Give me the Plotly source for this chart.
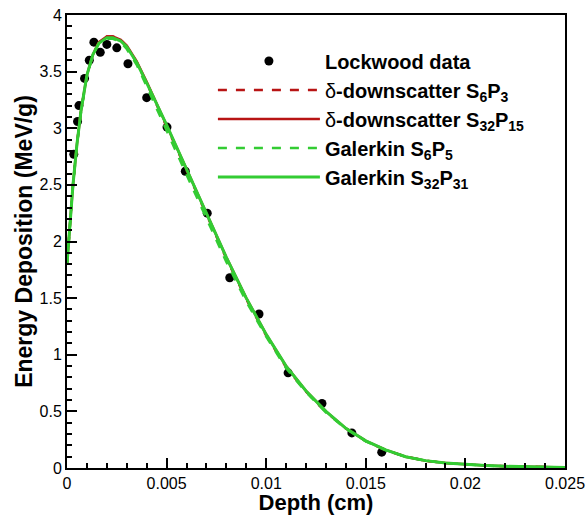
import plotly.graph_objects as go

# Lockwood experimental data
lock_x = [0.00034, 0.00053, 0.00060, 0.00088, 0.00112, 0.00135, 0.00167, 0.00200,
          0.00250, 0.00306, 0.00400, 0.00502, 0.00594, 0.00704, 0.00817, 0.00964,
          0.01110, 0.01280, 0.01430, 0.01580]
lock_y = [2.77, 3.06, 3.20, 3.44, 3.60, 3.76, 3.67, 3.74,
          3.71, 3.57, 3.27, 3.01, 2.62, 2.25, 1.68, 1.36,
          0.84, 0.57, 0.31, 0.14]

# computed curves (shared depth grid)
depth = [0.0, 0.0001, 0.0002, 0.0003, 0.0005, 0.0007, 0.001, 0.0013, 0.0016, 0.002,
         0.0023, 0.0027, 0.003, 0.0035, 0.004, 0.0045, 0.005, 0.006, 0.007, 0.008,
         0.009, 0.010, 0.011, 0.012, 0.013, 0.014, 0.015, 0.016, 0.017, 0.018,
         0.019, 0.020, 0.021, 0.022, 0.023, 0.024, 0.025]
delta_s6p3 = [1.80, 2.05, 2.27, 2.50, 2.86, 3.15, 3.47, 3.65, 3.76, 3.81,
              3.81, 3.78, 3.72, 3.58, 3.40, 3.21, 3.02, 2.63, 2.24, 1.85,
              1.49, 1.17, 0.89, 0.675, 0.495, 0.348, 0.238, 0.158, 0.10, 0.065,
              0.045, 0.032, 0.022, 0.015, 0.010, 0.007, 0.005]
delta_s32p15 = [1.80, 2.05, 2.27, 2.50, 2.86, 3.15, 3.47, 3.65, 3.76, 3.81,
                3.81, 3.78, 3.73, 3.59, 3.41, 3.22, 3.03, 2.64, 2.25, 1.86,
                1.50, 1.18, 0.90, 0.68, 0.50, 0.35, 0.24, 0.16, 0.10, 0.065,
                0.045, 0.032, 0.022, 0.015, 0.010, 0.007, 0.005]
galerkin_s6p5 = [1.80, 2.05, 2.27, 2.49, 2.85, 3.14, 3.46, 3.65, 3.75, 3.79,
                 3.79, 3.76, 3.70, 3.56, 3.37, 3.18, 2.98, 2.59, 2.20, 1.82,
                 1.47, 1.16, 0.88, 0.67, 0.49, 0.345, 0.235, 0.155, 0.10, 0.065,
                 0.044, 0.031, 0.021, 0.014, 0.010, 0.007, 0.005]
galerkin_s32p31 = [1.80, 2.05, 2.27, 2.50, 2.86, 3.15, 3.47, 3.65, 3.75, 3.80,
                   3.80, 3.77, 3.72, 3.58, 3.40, 3.22, 3.03, 2.64, 2.25, 1.86,
                   1.50, 1.18, 0.90, 0.68, 0.50, 0.35, 0.24, 0.16, 0.10, 0.065,
                   0.045, 0.032, 0.022, 0.015, 0.010, 0.007, 0.005]

x_ticks = [0, 0.005, 0.01, 0.015, 0.02, 0.025]
x_ticklabels = ["0", "0.005", "0.01", "0.015", "0.02", "0.025"]
y_ticks = [0, 0.5, 1, 1.5, 2, 2.5, 3, 3.5, 4]
y_ticklabels = ["0", "0.5", "1", "1.5", "2", "2.5", "3", "3.5", "4"]

RED = "#b81414"
GREEN = "#33cc33"
FONT = "Liberation Sans, Arial, sans-serif"

fig = go.Figure()
fig.add_trace(go.Scatter(x=lock_x, y=lock_y, mode="markers",
                         marker=dict(color="black", size=9),
                         name="<b>Lockwood data</b>"))
fig.add_trace(go.Scatter(x=depth, y=delta_s6p3, mode="lines",
                         line=dict(color=RED, width=2.5, dash="dash"),
                         name="δ<b>-downscatter S<sub>6</sub>P<sub>3</sub></b>"))
fig.add_trace(go.Scatter(x=depth, y=delta_s32p15, mode="lines",
                         line=dict(color=RED, width=2.5),
                         name="δ<b>-downscatter S<sub>32</sub>P<sub>15</sub></b>"))
fig.add_trace(go.Scatter(x=depth, y=galerkin_s6p5, mode="lines",
                         line=dict(color=GREEN, width=2.5, dash="dash"),
                         name="<b>Galerkin S<sub>6</sub>P<sub>5</sub></b>"))
fig.add_trace(go.Scatter(x=depth, y=galerkin_s32p31, mode="lines",
                         line=dict(color=GREEN, width=3),
                         name="<b>Galerkin S<sub>32</sub>P<sub>31</sub></b>"))

axis_common = dict(showline=True, linecolor="black", linewidth=2, mirror=True,
                   ticks="inside", tickcolor="black", tickwidth=2, ticklen=10,
                   showgrid=False, zeroline=False, automargin=False,
                   tickfont=dict(family=FONT, size=16, color="black"))

fig.update_layout(
    width=587, height=515,
    margin=dict(l=67, r=22, t=15, b=47),
    paper_bgcolor="white", plot_bgcolor="white",
    font=dict(family=FONT, color="black"),
    showlegend=True,
    legend=dict(x=0.293, y=0.9415, xanchor="left", yanchor="top",
                bgcolor="rgba(0,0,0,0)", borderwidth=0,
                font=dict(family=FONT, size=20, color="black"),
                itemwidth=102, tracegroupgap=0),
    xaxis=dict(range=[0, 0.025], tickvals=x_ticks, ticktext=x_ticklabels,
               minor=dict(ticks="inside", dtick=0.001, ticklen=5, tickwidth=1.5,
                          tickcolor="black", showgrid=False),
               title=dict(text="<b>Depth (cm)</b>", font=dict(size=22), standoff=5),
               **axis_common),
    yaxis=dict(range=[0, 4], tickvals=y_ticks, ticktext=y_ticklabels,
               minor=dict(ticks="inside", dtick=0.1, ticklen=5, tickwidth=1.5,
                          tickcolor="black", showgrid=False),
               title=dict(text="<b>Energy Deposition (MeV/g)</b>", font=dict(size=23), standoff=0),
               **axis_common),
)

fig.write_html("out.html",
               config={"displayModeBar": False},
               post_script="document.body.style.margin='0';document.body.style.padding='0';")
